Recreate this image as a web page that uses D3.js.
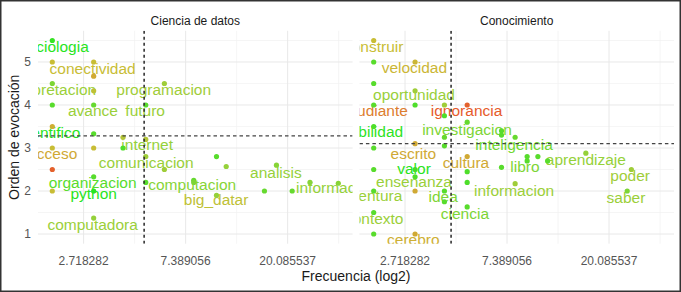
<!DOCTYPE html>
<html>
<head>
<meta charset="utf-8">
<script src="https://cdn.jsdelivr.net/npm/d3@7"></script>
<style>
body { margin: 0; background: #fff; }
svg { display: block; font-family: "Liberation Sans", Arial, sans-serif; }
</style>
</head>
<body>
<svg id="chart" width="681" height="292"></svg>
<script>
"use strict";
const paneles = ["Ciencia de datos", "Conocimiento"];
const ticksX = [2.718282, 7.389056, 20.085537];
const ticksY = [1, 2, 3, 4, 5];
// dashed reference lines (mean frequency / mean order) per panel
const corteFrec = [4.92, 4.27];
const corteOrden = [3.28, 3.1];

// Ciencia de datos: points
const cdFrec = [2, 2, 3, 3, 2, 3, 6, 5, 2, 3, 2, 3, 4, 5, 2, 3, 4, 5, 2, 6, 10, 11, 3, 5, 2, 3, 8, 8, 10, 16, 18, 21, 25, 33, 3];
const cdOrden = [5.5, 5, 5, 4.67, 4.5, 4.33, 4.5, 4, 4, 4, 3.5, 3.33, 3.25, 3.2, 3, 3, 3, 2.8, 2.5, 2.5, 2.8, 2.57, 2.33, 2.2, 2, 2, 2.25, 2.2, 1.9, 2, 2.6, 2, 2.2, 2.18, 1.37];
const cdTono = [0.05, 0.5, 0.5, 0.65, 0.2, 0.45, 0.3, 0.12, 0.12, 0.15, 0.6, 0.12, 0.4, 0.4, 0.5, 0.5, 0.1, 0.3, 0.95, 0.3, 0.12, 0.25, 0.12, 0.12, 0.5, 0.02, 0.15, 0.2, 0.25, 0.15, 0.22, 0.15, 0.22, 0.22, 0.25];
// Ciencia de datos: labels (repelled positions)
const cdPalabra = ["sociologia", "conectividad", "interpretacion", "programacion", "avance", "futuro", "cientifico", "acceso", "internet", "comunicacion", "organizacion", "python", "computadora", "computacion", "big_datar", "analisis", "informacion"];
const cdPalFrec = [2.04, 2.97, 1.94, 5.96, 2.98, 4.97, 1.96, 2.01, 5.07, 5.02, 2.97, 3.0, 2.97, 7.88, 9.96, 17.9, 32.3];
const cdPalOrden = [5.36, 4.85, 4.36, 4.36, 3.87, 3.87, 3.35, 2.86, 3.08, 2.66, 2.2, 1.93, 1.22, 2.14, 1.79, 2.44, 2.07];
const cdPalTono = [0.02, 0.5, 0.28, 0.3, 0.27, 0.27, 0.02, 0.65, 0.25, 0.27, 0.12, 0.02, 0.28, 0.22, 0.45, 0.25, 0.25];

// Conocimiento: points
const coFrec = [2, 2, 3, 2, 3, 2, 3, 4, 5, 4, 5, 2, 4, 7, 7, 8, 2, 3, 4, 5, 7, 9, 9, 10, 11, 16, 2, 3, 5, 3, 5, 2, 3, 4, 4, 8, 2, 5, 2, 3, 25, 24];
const coOrden = [5.5, 5, 5, 4.5, 4.33, 4, 4, 4, 4, 3.75, 3.6, 3.5, 3.25, 3.4, 3.3, 3.25, 3, 3.1, 3.05, 2.8, 2.55, 2.8, 2.7, 2.8, 2.7, 2.88, 2.5, 2.5, 2.45, 2.33, 2.2, 2, 2, 2, 1.75, 2.17, 1.5, 1.63, 1, 1, 2.5, 2];
const coTono = [0.5, 0.12, 0.55, 0.12, 0.3, 0.12, 0.1, 0.3, 0.95, 0.1, 0.15, 0.1, 0.15, 0.12, 0.12, 0.15, 0.12, 0.65, 0.12, 0.65, 0.12, 0.12, 0.12, 0.12, 0.12, 0.25, 0.12, 0.08, 0.1, 0.1, 0.1, 0.12, 0.65, 0.12, 0.12, 0.3, 0.12, 0.12, 0.12, 0.65, 0.3, 0.2];
// Conocimiento: labels
const coPalabra = ["construir", "velocidad", "oportunidad", "estudiante", "ignorancia", "habilidad", "investigacion", "inteligencia", "escrito", "cultura", "valor", "libro", "aprendizaje", "poder", "saber", "ensenanza", "informacion", "aventura", "idea", "contexto", "ciencia", "cerebro"];
const coPalFrec = [2.0, 2.98, 2.97, 1.97, 4.97, 1.97, 4.99, 7.92, 2.95, 4.94, 2.97, 8.81, 16.0, 24.7, 23.7, 2.97, 7.92, 1.97, 3.95, 2.01, 4.89, 2.95];
const coPalOrden = [5.35, 4.87, 4.24, 3.88, 3.88, 3.38, 3.44, 3.09, 2.86, 2.67, 2.53, 2.56, 2.74, 2.37, 1.84, 2.21, 2.02, 1.9, 1.88, 1.37, 1.47, 0.86];
const coPalTono = [0.5, 0.55, 0.27, 0.85, 0.97, 0.03, 0.2, 0.17, 0.65, 0.65, 0.02, 0.2, 0.25, 0.3, 0.28, 0.27, 0.28, 0.28, 0.2, 0.28, 0.2, 0.6];

const datos = [
	{frec: cdFrec, orden: cdOrden, tono: cdTono, pal: cdPalabra, palFrec: cdPalFrec, palOrden: cdPalOrden, palTono: cdPalTono},
	{frec: coFrec, orden: coOrden, tono: coTono, pal: coPalabra, palFrec: coPalFrec, palOrden: coPalOrden, palTono: coPalTono},
];

const size = {width: 681, height: 292, top: 30.8, bottom: 243.7, left: 38, panel: 314.6, gap: 6.8};
const color = d3.scaleLinear()
	.domain([0, 0.25, 0.5, 0.75, 1])
	.range(["#1fe61f", "#95d13a", "#c8bd35", "#d69b33", "#e8522a"]);

const svg = d3.select("#chart");
svg.append("rect").attr("width", size.width).attr("height", size.height).attr("fill", "#fff");

// shared scales (fixed facets), 5% expansion like ggplot
const lnExt = d3.extent(datos.flatMap(d => d.frec), v => Math.log(v));
const padX = (lnExt[1] - lnExt[0]) * 0.05;
const ordExt = d3.extent(datos.flatMap(d => d.orden));
const padY = (ordExt[1] - ordExt[0]) * 0.05;
const y = d3.scaleLinear()
	.domain([ordExt[0] - padY, ordExt[1] + padY])
	.range([size.bottom, size.top]);

const minorX = [0.5, 1.5, 2.5, 3.5].map(v => Math.exp(v));
const minorY = [0.5, 1.5, 2.5, 3.5, 4.5, 5.5];

datos.forEach((d, i) => {
	const x0 = size.left + i * (size.panel + size.gap);
	const x = d3.scaleLog().base(Math.E)
		.domain([Math.exp(lnExt[0] - padX), Math.exp(lnExt[1] + padX)])
		.range([x0, x0 + size.panel]);
	const xd = x.domain(), yd = y.domain();
	const g = svg.append("g");

	g.append("clipPath").attr("id", "clip" + i)
		.append("rect")
		.attr("x", x0).attr("y", size.top)
		.attr("width", size.panel).attr("height", size.bottom - size.top);

	// grid
	g.selectAll(".mx").data(minorX.filter(v => v > xd[0] && v < xd[1])).enter()
		.append("line")
		.attr("x1", v => x(v)).attr("x2", v => x(v))
		.attr("y1", size.top).attr("y2", size.bottom)
		.attr("stroke", "#f1f1f1").attr("stroke-width", 0.7);
	g.selectAll(".my").data(minorY.filter(v => v > yd[0] && v < yd[1])).enter()
		.append("line")
		.attr("x1", x0).attr("x2", x0 + size.panel)
		.attr("y1", v => y(v)).attr("y2", v => y(v))
		.attr("stroke", "#f1f1f1").attr("stroke-width", 0.7);
	g.selectAll(".Mx").data(ticksX).enter()
		.append("line")
		.attr("x1", v => x(v)).attr("x2", v => x(v))
		.attr("y1", size.top).attr("y2", size.bottom)
		.attr("stroke", "#e8e8e8").attr("stroke-width", 1);
	g.selectAll(".My").data(ticksY).enter()
		.append("line")
		.attr("x1", x0).attr("x2", x0 + size.panel)
		.attr("y1", v => y(v)).attr("y2", v => y(v))
		.attr("stroke", "#e8e8e8").attr("stroke-width", 1);

	// strip title
	g.append("text")
		.attr("x", x0 + size.panel / 2).attr("y", 24.5)
		.attr("text-anchor", "middle")
		.attr("font-size", "12px").attr("fill", "#1a1a1a")
		.text(paneles[i]);

	// x tick labels
	g.selectAll(".tx").data(ticksX).enter()
		.append("text")
		.attr("x", v => x(v)).attr("y", 265)
		.attr("text-anchor", "middle")
		.attr("font-size", "12px").attr("fill", "#555")
		.text(v => v);

	const clip = g.append("g").attr("clip-path", "url(#clip" + i + ")");

	// labels
	clip.selectAll(".lab").data(d.pal).enter()
		.append("text")
		.attr("x", (p, k) => x(d.palFrec[k]))
		.attr("y", (p, k) => y(d.palOrden[k]))
		.attr("dy", "0.35em")
		.attr("text-anchor", "middle")
		.attr("font-size", "15.5px")
		.attr("fill", (p, k) => color(d.palTono[k]))
		.text(p => p);

	// points
	clip.selectAll(".pt").data(d.frec).enter()
		.append("circle")
		.attr("cx", v => x(v))
		.attr("cy", (v, k) => y(d.orden[k]))
		.attr("r", 2.6)
		.attr("fill", (v, k) => color(d.tono[k]));

	// reference lines
	clip.append("line")
		.attr("x1", x(corteFrec[i])).attr("x2", x(corteFrec[i]))
		.attr("y1", size.top).attr("y2", size.bottom)
		.attr("stroke", "#333").attr("stroke-width", 1.6)
		.attr("stroke-dasharray", "3,3");
	clip.append("line")
		.attr("x1", x0).attr("x2", x0 + size.panel)
		.attr("y1", y(corteOrden[i])).attr("y2", y(corteOrden[i]))
		.attr("stroke", "#444").attr("stroke-width", 1.3)
		.attr("stroke-dasharray", "3.5,3");
});

// y tick labels
svg.selectAll(".ty").data(ticksY).enter()
	.append("text")
	.attr("x", 31).attr("y", v => y(v))
	.attr("dy", "0.35em")
	.attr("text-anchor", "end")
	.attr("font-size", "12px").attr("fill", "#555")
	.text(v => v);

// axis titles
svg.append("text")
	.attr("x", size.left + size.panel + size.gap / 2).attr("y", 281)
	.attr("text-anchor", "middle")
	.attr("font-size", "14px").attr("fill", "#1a1a1a")
	.text("Frecuencia (log2)");
svg.append("text")
	.attr("transform", "translate(18.5," + ((size.top + size.bottom) / 2) + ") rotate(-90)")
	.attr("text-anchor", "middle")
	.attr("font-size", "14px").attr("fill", "#1a1a1a")
	.text("Orden de evocación");

// frame
svg.append("rect")
	.attr("x", 0.75).attr("y", 0.75)
	.attr("width", size.width - 1.5).attr("height", size.height - 1.5)
	.attr("fill", "none").attr("stroke", "#333").attr("stroke-width", 1.5);
</script>
</body>
</html>
